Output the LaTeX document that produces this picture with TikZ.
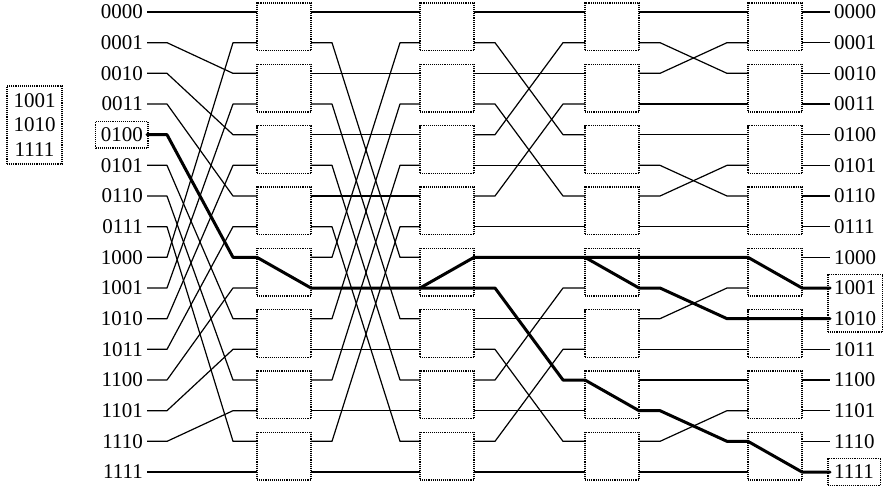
\documentclass[tikz,border=0pt]{standalone}
\usepackage{fontspec}
\setmainfont{Liberation Serif}
\usetikzlibrary{calc,fit}
\tikzset{
  swbox/.style={draw, densely dotted, line width=1.1pt, minimum width=54pt, minimum height=47.7pt, inner sep=0pt, outer sep=0pt},
  conn/.style={draw, line width=1.2pt, line join=round},
  boldpath/.style={draw, line width=3pt, line join=round, line cap=round},
  lab/.style={font=\fontsize{21}{22}\selectfont, inner xsep=4pt, inner ysep=2pt},
  frame/.style={draw, densely dotted, line width=1.1pt, inner xsep=1pt, inner ysep=4pt},
  link/.style 2 args={to path={-- ++(#1,0) -- ($(\tikztotarget)+(-#2,0)$) -- (\tikztotarget)}}
}
\begin{document}
\begin{tikzpicture}[x=1pt,y=-1pt]
\useasboundingbox (0,0) rectangle (896,493);

% switch boxes and ports
\foreach \j/\xl in {1/257,2/420,3/585,4/748}{
  \foreach \r in {0,...,15}{
    \pgfmathsetmacro\yy{12+30.667*\r}
    \pgfmathsetmacro\xr{\xl+54}
    \coordinate (L\j-\r) at (\xl,\yy);
    \coordinate (R\j-\r) at (\xr,\yy);
  }
  \foreach \k in {0,...,7}{
    \pgfmathsetmacro\yc{12+30.667*(2*\k+0.5)-0.5}
    \pgfmathsetmacro\xc{\xl+27}
    \node[swbox] (S\j-\k) at (\xc,\yc) {};
  }
}

% labels
\foreach \i/\t in {0/0000,1/0001,2/0010,3/0011,4/0100,5/0101,6/0110,7/0111,8/1000,9/1001,10/1010,11/1011,12/1100,13/1101,14/1110,15/1111}{
  \pgfmathsetmacro\yy{12+30.667*\i}
  \node[lab, anchor=east] (in\i) at (147,\yy) {\t};
  \node[lab, anchor=west] (out\i) at (830,\yy) {\t};
}

% frames
\node[frame, fit=(in4)] (f4) {};
\node[frame, inner xsep=2pt, fit=(out9)(out10)] (f910) {};
\node[frame, inner xsep=2pt, fit=(out15)] (f15) {};
\node[draw, densely dotted, line width=1.1pt, minimum width=55pt, minimum height=78pt, align=center, inner sep=0pt,
      font=\fontsize{21}{24.5}\selectfont] (legend) at (34.5,125) {1001\\1010\\1111};

% inputs to stage 1
\foreach \i/\p in {0/0,1/2,2/4,3/6,4/8,5/10,6/12,7/14,8/1,9/3,10/5,11/7,12/9,13/11,14/13,15/15}{
  \draw[conn] (in\i.east) to[link={20}{24}] (L1-\p);
}
% stage 1 to 2
\foreach \a/\b in {0/0,1/8,2/2,3/10,4/4,5/12,6/6,7/14,8/1,9/9,10/3,11/11,12/5,13/13,14/7,15/15}{
  \draw[conn] (R1-\a) to[link={21}{20}] (L2-\b);
}
% stage 2 to 3
\foreach \a/\b in {0/0,1/4,2/2,3/6,4/1,5/5,6/3,7/7,8/8,9/12,10/10,11/14,12/9,13/13,14/11,15/15}{
  \draw[conn] (R2-\a) to[link={21}{22}] (L3-\b);
}
% stage 3 to 4
\foreach \a/\b in {0/0,1/2,2/1,3/3,4/4,5/6,6/5,7/7,8/8,9/10,10/9,11/11,12/12,13/14,14/13,15/15}{
  \draw[conn] (R3-\a) to[link={21}{21}] (L4-\b);
}
% outputs
\foreach \r in {0,...,15}{
  \draw[conn] (R4-\r) -- (out\r.west);
}

% bold multicast path
\draw[boldpath] (in4.east) to[link={20}{24}] (L1-8) -- (R1-9) -- (L2-9) -- (R2-8) -- (L3-8) -- (R3-9)
   to[link={21}{21}] (L4-10) -- (R4-10) -- (out10.west);
\draw[boldpath] (L2-9) -- (R2-9) to[link={21}{22}] (L3-12) -- (R3-13) to[link={21}{21}] (L4-14) -- (R4-15) -- (out15.west);
\draw[boldpath] (L3-8) -- (R3-8) -- (L4-8) -- (R4-9) -- (out9.west);
\end{tikzpicture}
\end{document}
